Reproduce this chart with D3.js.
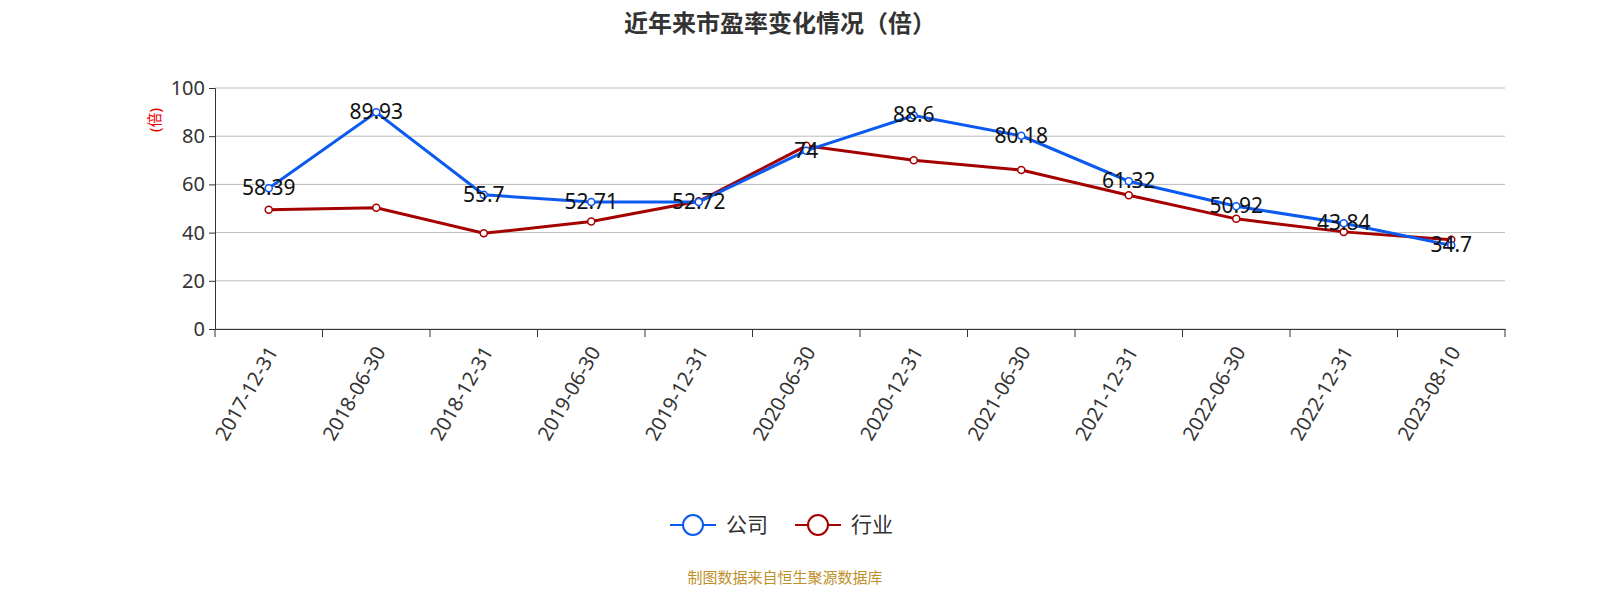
<!DOCTYPE html>
<html><head><meta charset="utf-8">
<script src="https://cdn.jsdelivr.net/npm/d3@7"></script>
<style>body{margin:0;background:#fff;font-family:"Noto Sans","Noto Sans CJK SC",sans-serif}</style>
</head><body><svg id="c" width="1600" height="600"></svg>
<script>
const categories = ['2017-12-31','2018-06-30','2018-12-31','2019-06-30','2019-12-31','2020-06-30','2020-12-31','2021-06-30','2021-12-31','2022-06-30','2022-12-31','2023-08-10'];
const company = [58.39, 89.93, 55.7, 52.71, 52.72, 74, 88.6, 80.18, 61.32, 50.92, 43.84, 34.7];
const industry = [49.5, 50.3, 39.7, 44.6, 53, 76, 70, 66, 55.5, 45.7, 40.3, 37];
const yTicks = [0, 20, 40, 60, 80, 100];

const svg = d3.select('#c');
const font = '"Noto Sans","Noto Sans CJK SC",sans-serif';
const x = d3.scaleBand().domain(categories).range([215, 1505]);
const y = d3.scaleLinear().domain([0, 100]).range([329, 88]);

svg.append('text').attr('x', 780).attr('y', 32).attr('text-anchor', 'middle')
  .attr('font-size', 24).attr('font-weight', 'bold').attr('fill', '#333').text('近年来市盈率变化情况（倍）');

svg.append('g').selectAll('line').data(yTicks).join('line')
  .attr('x1', 215).attr('x2', 1505).attr('y1', d => y(d)).attr('y2', d => y(d))
  .attr('stroke', '#bbb');

const ya = svg.append('g').attr('transform', 'translate(215,0)')
  .call(d3.axisLeft(y).tickValues(yTicks).tickSize(6).tickPadding(4));
ya.selectAll('text').attr('font-size', 20).attr('fill', '#333').attr('font-family', font);
ya.selectAll('line,path').attr('stroke', '#333');

const xa = svg.append('g').attr('transform', 'translate(0,329)')
  .call(d3.axisBottom(x).tickSizeOuter(6).tickSize(0));
xa.select('path').attr('stroke', '#333');
xa.selectAll('.tick').append('line').attr('x1', -x.bandwidth()/2).attr('x2', -x.bandwidth()/2).attr('y2', 8).attr('stroke', '#333');
svg.append('line').attr('x1', 1505).attr('x2', 1505).attr('y1', 329).attr('y2', 337).attr('stroke', '#333');
xa.selectAll('text').attr('font-size', 20).attr('fill', '#333').attr('font-family', font)
  .attr('text-anchor', 'end').attr('transform', 'translate(0,10) rotate(-60)').attr('dx', '-0.3em').attr('dy', '0.6em');

svg.append('text').attr('transform', 'translate(160,120) rotate(-90)').attr('text-anchor', 'middle')
  .attr('font-size', 15).attr('fill', '#e00').text('(倍)');

const cx = d => x(d) + x.bandwidth()/2;
const line = vals => d3.line().x((d, i) => cx(categories[i])).y(d => y(d))(vals);
function series(vals, color) {
  svg.append('path').attr('d', line(vals)).attr('fill', 'none').attr('stroke', color).attr('stroke-width', 3);
  svg.append('g').selectAll('circle').data(vals).join('circle')
    .attr('cx', (d, i) => cx(categories[i])).attr('cy', d => y(d)).attr('r', 3.5)
    .attr('fill', '#fff').attr('stroke', color).attr('stroke-width', 1.5);
}
series(industry, '#a50000');
series(company, '#0a5af0');
svg.append('g').selectAll('text').data(company).join('text')
  .attr('x', (d, i) => cx(categories[i])).attr('y', d => y(d) + 7).attr('text-anchor', 'middle')
  .attr('font-size', 21).attr('fill', '#111').text(d => d);

const legend = [['公司', '#0a5af0', 670], ['行业', '#a50000', 795]];
legend.forEach(([name, color, lx]) => {
  svg.append('line').attr('x1', lx).attr('x2', lx + 46).attr('y1', 525).attr('y2', 525).attr('stroke', color).attr('stroke-width', 2);
  svg.append('circle').attr('cx', lx + 23).attr('cy', 525).attr('r', 10).attr('fill', '#fff').attr('stroke', color).attr('stroke-width', 2);
  svg.append('text').attr('x', lx + 56).attr('y', 532).attr('font-size', 21).attr('fill', '#333').text(name);
});

svg.append('text').attr('x', 785).attr('y', 583).attr('text-anchor', 'middle')
  .attr('font-size', 15).attr('fill', '#c0902a').text('制图数据来自恒生聚源数据库');
</script></body></html>
